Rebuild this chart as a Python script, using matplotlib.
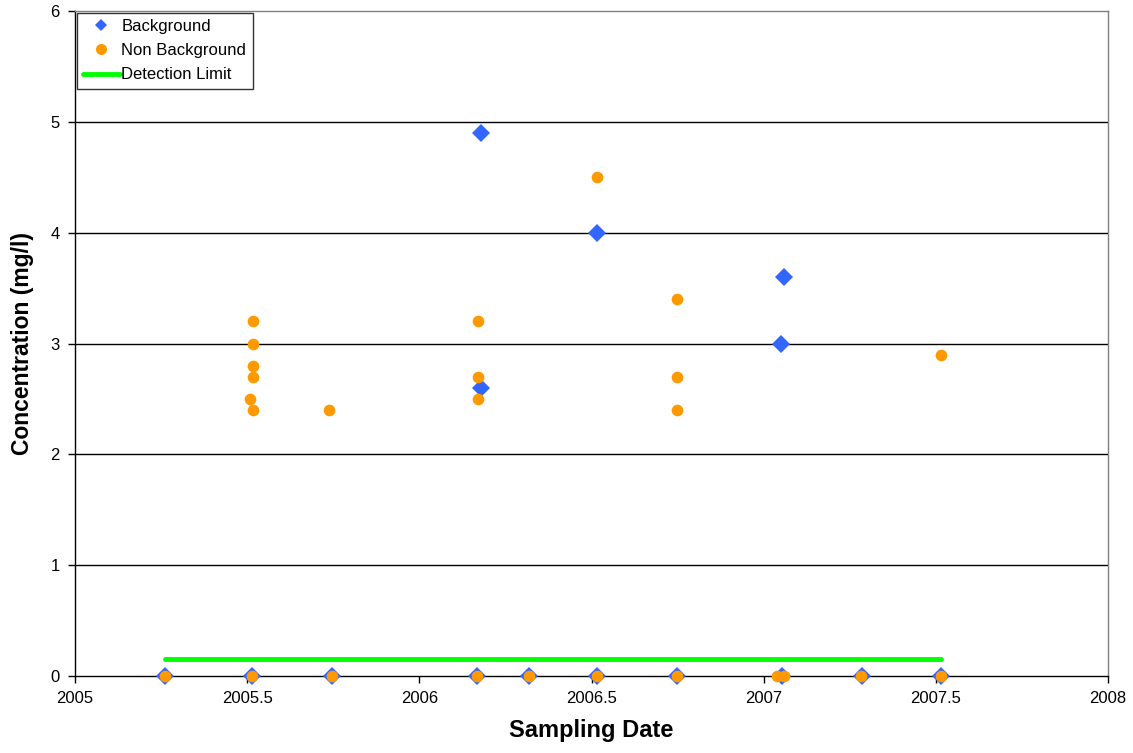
import matplotlib
matplotlib.use("Agg")
import matplotlib.pyplot as plt
import numpy as np

plt.rcParams["font.family"] = ["Liberation Sans", "DejaVu Sans"]

# ---------- data ----------
bg_dates = [2005.262, 2005.513, 2005.746, 2006.167, 2006.318, 2006.515,
            2006.747, 2007.054, 2007.287, 2007.515,
            2006.18, 2006.18, 2006.515, 2007.05, 2007.06]
bg_conc = [0, 0, 0, 0, 0, 0, 0, 0, 0, 0,
           4.9, 2.6, 4.0, 3.0, 3.6]

nb_dates = [2005.262, 2005.513, 2005.746, 2006.167, 2006.318, 2006.515,
            2006.747, 2007.04, 2007.06, 2007.282, 2007.515,
            2005.517, 2005.517, 2005.517, 2005.517, 2005.508, 2005.517,
            2005.738, 2006.17, 2006.17, 2006.17, 2006.515,
            2006.749, 2006.749, 2006.749, 2007.515]
nb_conc = [0, 0, 0, 0, 0, 0, 0, 0, 0, 0, 0,
           3.2, 3.0, 2.8, 2.7, 2.5, 2.4,
           2.4, 3.2, 2.7, 2.5, 4.5,
           3.4, 2.7, 2.4, 2.9]

dl_dates = [2005.262, 2007.515]
dl_conc = [0.15, 0.15]

x_ticks = [2005, 2005.5, 2006, 2006.5, 2007, 2007.5, 2008]
x_labels = ["2005", "2005.5", "2006", "2006.5", "2007", "2007.5", "2008"]
y_ticks = [0, 1, 2, 3, 4, 5, 6]

# ---------- figure ----------
fig = plt.figure(figsize=(11.33, 7.53), dpi=100)
ax = fig.add_axes([75 / 1133, 1 - 676 / 753, (1108 - 75) / 1133, (676 - 11) / 753])

ax.plot(bg_dates, bg_conc, linestyle="none", marker="D", markersize=9,
        color="#3366FF", markeredgewidth=0, label="Background", zorder=3,
        clip_on=False)
ax.plot(nb_dates, nb_conc, linestyle="none", marker="o", markersize=8.4,
        color="#FF9900", markeredgewidth=0, label="Non Background", zorder=4,
        clip_on=False)
ax.plot(dl_dates, dl_conc, color="#00FF00", linewidth=3.5,
        solid_capstyle="round", label="Detection Limit", zorder=2)

ax.set_xlim(2005, 2008)
ax.set_ylim(0, 6)
ax.set_xticks(x_ticks)
ax.set_xticklabels(x_labels)
ax.set_yticks(y_ticks)
ax.tick_params(direction="out", length=5, width=1, labelsize=12, pad=6)

for yv in y_ticks[1:-1]:
    ax.axhline(yv, color="black", linewidth=1, zorder=1)

ax.spines["left"].set_color("black")
ax.spines["bottom"].set_color("black")
ax.spines["top"].set_color("#808080")
ax.spines["right"].set_color("#808080")
for s in ax.spines.values():
    s.set_linewidth(1)

ax.set_xlabel("Sampling Date", fontsize=17, fontweight="bold", labelpad=9)
ax.set_ylabel("Concentration (mg/l)", fontsize=16.5, fontweight="bold", labelpad=12)

leg = ax.legend(loc="upper left", bbox_to_anchor=(0.0, 1.0), frameon=True,
                fancybox=False, fontsize=12, borderaxespad=0.1,
                handlelength=2.2, handletextpad=0.1, borderpad=0.38,
                labelspacing=0.55)
leg.get_frame().set_edgecolor("black")
leg.get_frame().set_linewidth(1)
# smaller legend symbols, as in the original
leg.legend_handles[0].set_markersize(6.5)
leg.legend_handles[1].set_markersize(8)

fig.savefig("out.png", dpi=100)
